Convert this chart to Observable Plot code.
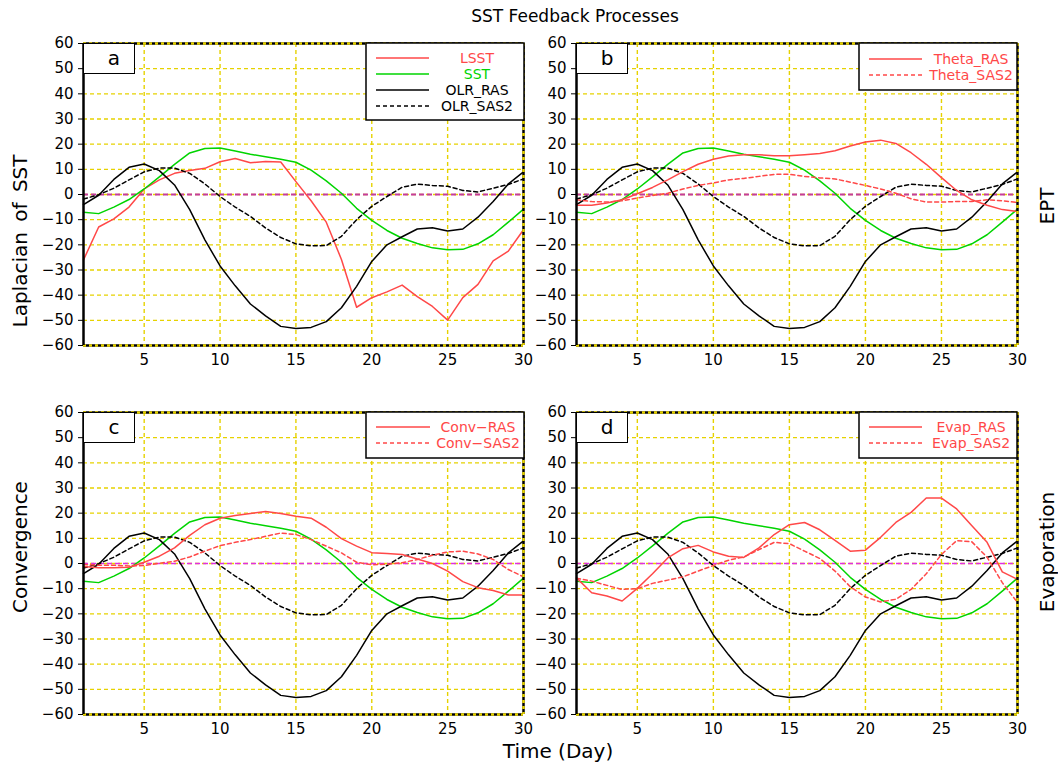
<!DOCTYPE html>
<html><head><meta charset="utf-8">
<script src="https://cdn.jsdelivr.net/npm/d3@7"></script>
<script src="https://cdn.jsdelivr.net/npm/@observablehq/plot@0.6"></script>
<style>
body{margin:0;background:#fff;}
#wrap{position:relative;width:1058px;height:764px;font-family:"DejaVu Sans",sans-serif;overflow:hidden;}
.abs{position:absolute;white-space:nowrap;}
.rot{transform:translate(-50%,-50%) rotate(-90deg);}
.ctr{transform:translate(-50%,-50%);}
</style></head><body><div id="wrap"></div>
<script>
// ---------- data ----------
const days = d3.range(1, 31);
const xTicks = [5, 10, 15, 20, 25, 30];
const yTicks = d3.range(-60, 61, 10);
const title = "SST Feedback Processes";
const xTitle = "Time (Day)";
const panelLetters = ["a", "b", "c", "d"];
const leftTitles = ["Laplacian of SST", "Convergence"];
const rightTitles = ["EPT", "Evaporation"];

const SST = [-7.1,-7.6,-5,-2,2.2,7,12,16.5,18.3,18.5,17.3,16,15,14,12.8,9.7,5.4,0.5,-5.5,-10.3,-14.3,-17.4,-19.5,-21.2,-22,-21.8,-19.6,-16,-11,-5.8];
const OLR_RAS = [-4,-0.3,6,10.8,12.1,9.5,3.8,-6,-18,-28.4,-36.3,-43.5,-48.2,-52.4,-53.2,-52.8,-50.5,-45,-36.5,-26.6,-20,-16.8,-13.7,-13.2,-14.5,-13.7,-9,-2.8,4.2,9];
const OLR_SAS2 = [-1.8,-0.1,2.5,5.8,9,10.5,10.5,8.4,4.2,-0.8,-5,-8.7,-13.3,-17.1,-19.6,-20.4,-20.3,-16.6,-10,-4.7,-0.8,2.9,4.1,3.6,3.3,1.6,1,2.5,4,6.2];
const LSST = [-26,-12.9,-9.7,-5,2.2,5.8,8.4,9.5,10.4,13,14.3,12.6,13.1,12.9,5.1,-2.5,-11,-25.8,-44.8,-41,-38.7,-36,-40.6,-44.5,-49.9,-41,-35.7,-26.4,-22.5,-14];
const Theta_RAS = [-4.3,-4.3,-3.4,-2.1,0.3,2.8,5.8,9.1,12,14,15.3,15.8,15.8,15.4,15.4,15.8,16.3,17.4,19.3,20.9,21.6,20.3,16.6,12,6.7,1.6,-2.1,-4.3,-6,-6.8];
const Theta_SAS2 = [-2.1,-2.8,-3,-2.5,-1.4,-0.4,0.5,2.2,3.6,4.6,5.8,6.4,7.2,8,8,7.2,6.6,6.2,4.9,3.6,2.2,0.5,-1.7,-3,-3,-2.8,-2.8,-2.1,-2.5,-3.2];
const Conv_RAS = [-1.2,-1.7,-1.7,-1.5,0.5,2.9,6.2,11.2,15.4,18,19.1,19.9,20.7,19.9,18.8,18,14.4,9.9,6.9,4.3,4,3.6,1.8,0,-3,-7.2,-9.6,-10.7,-12.5,-12.5];
const Conv_SAS2 = [-0.4,-0.7,-0.7,-1,-0.8,0.1,0.9,2.6,4.9,7.1,8.4,9.5,10.8,12.1,11.5,9.5,6.9,4.2,0.5,-0.5,-0.3,0.3,1.6,3.3,4.6,4.9,3.8,1.6,-2.4,-5.3];
const Evap_RAS = [-5.7,-11.6,-12.9,-14.9,-9.9,-4.1,2.2,5.9,7.2,4.6,2.9,2.4,6.2,11.5,15.4,16.3,13.4,9.2,4.9,5.3,10.4,16.3,20.3,26,26,21.7,15,8.4,-3.3,-6.3];
const Evap_SAS2 = [-5.9,-7,-8.7,-10.3,-10,-7.9,-6.6,-5.3,-3,-0.8,1.3,2.6,5.5,8.4,7.9,4.9,2,-3,-9.2,-13.3,-15.3,-14.2,-10.3,-4.1,3.6,9.1,8.6,2.5,-7.6,-15.5];

// ---------- styles / layout ----------
const RED = "#ff4848", GREEN = "#00d400", BLACK = "#000", YEL = "#e6d200";
const FONT = "DejaVu Sans, sans-serif";
const common = [
  {name: "SST", values: SST, color: GREEN, dash: null},
  {name: "OLR_RAS", values: OLR_RAS, color: BLACK, dash: null},
  {name: "OLR_SAS2", values: OLR_SAS2, color: BLACK, dash: "4,3"}
];
const panels = [
  {x0: 83, x1: 523, y0: 43, y1: 345, zero: "#c43c9c", zeroW: 2,
   reds: [{name: "LSST", values: LSST, color: RED, dash: null}], redFirst: true,
   legend: {x: 366, y: 43, w: 158, h: 77, lx0: 10, lx1: 63, tx: 111, rows: [58, 74, 90, 106]},
   legendItems: [{name: "LSST", color: RED, text: RED, dash: null}, {name: "SST", color: GREEN, text: GREEN, dash: null}, {name: "OLR_RAS", color: BLACK, text: BLACK, dash: null}, {name: "OLR_SAS2", color: BLACK, text: BLACK, dash: "4,3"}]},
  {x0: 576, x1: 1017, y0: 43, y1: 345, zero: "#c43c9c", zeroW: 2,
   reds: [{name: "Theta_RAS", values: Theta_RAS, color: RED, dash: null}, {name: "Theta_SAS2", values: Theta_SAS2, color: RED, dash: "4,3"}],
   legend: {x: 859, y: 43, w: 158, h: 47, lx0: 10, lx1: 63, tx: 112, rows: [59, 75]},
   legendItems: [{name: "Theta_RAS", color: RED, text: RED, dash: null}, {name: "Theta_SAS2", color: RED, text: RED, dash: "4,3"}]},
  {x0: 83, x1: 523, y0: 412, y1: 714, zero: "#e030e0", zeroW: 1.6,
   reds: [{name: "Conv-RAS", values: Conv_RAS, color: RED, dash: null}, {name: "Conv-SAS2", values: Conv_SAS2, color: RED, dash: "4,3"}],
   legend: {x: 366, y: 412, w: 158, h: 46, lx0: 10, lx1: 64, tx: 112, rows: [427, 443]},
   legendItems: [{name: "Conv\u2212RAS", color: RED, text: RED, dash: null}, {name: "Conv\u2212SAS2", color: RED, text: RED, dash: "4,3"}]},
  {x0: 576, x1: 1017, y0: 412, y1: 714, zero: "#e030e0", zeroW: 1.6,
   reds: [{name: "Evap_RAS", values: Evap_RAS, color: RED, dash: null}, {name: "Evap_SAS2", values: Evap_SAS2, color: RED, dash: "4,3"}],
   legend: {x: 859, y: 412, w: 158, h: 46, lx0: 10, lx1: 63, tx: 112, rows: [427, 443]},
   legendItems: [{name: "Evap_RAS", color: RED, text: RED, dash: null}, {name: "Evap_SAS2", color: RED, text: RED, dash: "4,3"}]}
];

const wrap = document.getElementById("wrap");
function addText(txt, x, y, size, cls, extra) {
  const d = document.createElement("div");
  d.className = "abs " + cls;
  d.style.left = x + "px"; d.style.top = y + "px";
  d.style.fontSize = size + "px";
  d.textContent = txt;
  if (extra) Object.assign(d.style, extra);
  wrap.appendChild(d);
  return d;
}

const ML = 50, MR = 10, MT = 10, MB = 30;
panels.forEach((p, i) => {
  const seriesList = p.redFirst ? [...p.reds, ...common] : [...common, ...p.reds];
  const lineMarks = seriesList.map(s => Plot.line(days.map((d, k) => ({day: d, value: s.values[k]})), {
    x: "day", y: "value", stroke: s.color, strokeWidth: 1.5, strokeDasharray: s.dash || undefined
  }));
  const chart = Plot.plot({
    width: (p.x1 - p.x0) + ML + MR,
    height: (p.y1 - p.y0) + MT + MB,
    marginLeft: ML, marginRight: MR, marginTop: MT, marginBottom: MB,
    style: {fontFamily: FONT, fontSize: "15px", color: "#000", background: "transparent", overflow: "visible"},
    x: {domain: [1, 30], ticks: xTicks, tickSize: 0, tickPadding: 9, label: null},
    y: {domain: [-60, 60], ticks: yTicks, tickSize: 5, tickPadding: 5, label: null},
    marks: [
      Plot.ruleX(xTicks.filter(v => v < 30), {stroke: YEL, strokeWidth: 1.4, strokeDasharray: "4,3"}),
      Plot.ruleY(yTicks.filter(v => v > -60 && v < 60), {stroke: YEL, strokeWidth: 1.4, strokeDasharray: "4,3"}),
      Plot.ruleY([0], {stroke: p.zero, strokeWidth: p.zeroW, strokeDasharray: "5,3"}),
      ...lineMarks,
      Plot.ruleY([-60, 60], {stroke: BLACK, strokeWidth: 2.5}),
      Plot.ruleY([-60, 60], {stroke: YEL, strokeWidth: 2.5, strokeDasharray: "3,3"}),
      Plot.ruleX([30], {stroke: BLACK, strokeWidth: 2.5}),
      Plot.ruleX([30], {stroke: YEL, strokeWidth: 2.5, strokeDasharray: "3,3"}),
      Plot.ruleX([1], {stroke: BLACK, strokeWidth: 2.5})
    ]
  });
  chart.style.position = "absolute";
  chart.style.left = (p.x0 - ML) + "px";
  chart.style.top = (p.y0 - MT) + "px";
  wrap.appendChild(chart);

  // panel letter box
  const box = document.createElement("div");
  box.className = "abs";
  Object.assign(box.style, {left: p.x0 + "px", top: p.y0 + "px", width: "52px", height: "31px",
    boxSizing: "border-box", border: "1.5px solid #000", background: "#fff", fontSize: "20px",
    lineHeight: "28px", textAlign: "center", paddingLeft: "10px"});
  box.textContent = panelLetters[i];
  wrap.appendChild(box);

  // legend box
  const L = p.legend;
  const svg = d3.create("svg").attr("width", L.w + 2).attr("height", L.h + 2)
    .style("position", "absolute").style("left", (L.x - 1) + "px").style("top", (L.y - 1) + "px");
  svg.append("rect").attr("x", 1).attr("y", 1).attr("width", L.w).attr("height", L.h)
    .attr("fill", "#fff").attr("stroke", "#000").attr("stroke-width", 1.5);
  p.legendItems.forEach((it, k) => {
    const yy = L.rows[k] - L.y + 1;
    svg.append("line").attr("x1", L.lx0 + 1).attr("x2", L.lx1 + 1).attr("y1", yy).attr("y2", yy)
      .attr("stroke", it.color).attr("stroke-width", 1.5).attr("stroke-dasharray", it.dash);
    svg.append("text").attr("x", L.tx + 1).attr("y", yy).attr("dy", "0.36em").attr("text-anchor", "middle")
      .attr("fill", it.text).attr("font-family", FONT).attr("font-size", 14).text(it.name);
  });
  wrap.appendChild(svg.node());
});

addText(title, 575, 16, 17, "ctr");
addText(xTitle, 558, 751, 20, "ctr");
addText(leftTitles[0], 20, 241, 20, "rot", {wordSpacing: "4px"});
addText(leftTitles[1], 20, 547, 20, "rot");
addText(rightTitles[0], 1047, 206, 20, "rot");
addText(rightTitles[1], 1047, 552, 20, "rot");
</script></body></html>
